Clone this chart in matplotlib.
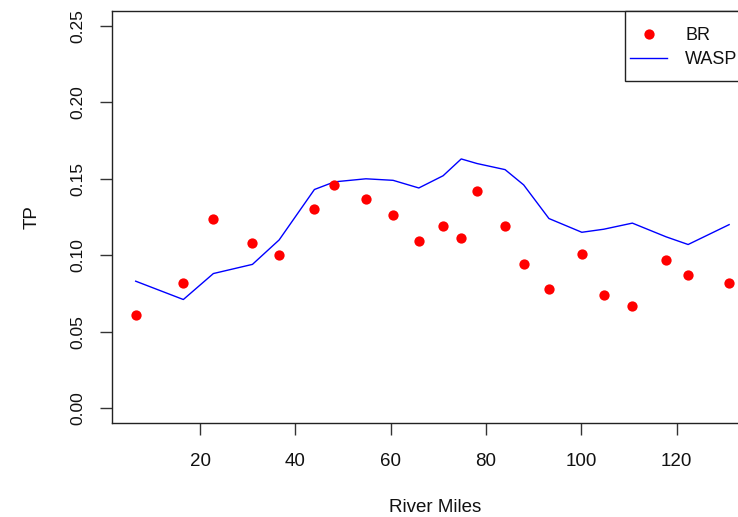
import matplotlib
matplotlib.use("Agg")
import matplotlib.pyplot as plt
from matplotlib.lines import Line2D
from matplotlib.patches import Rectangle

plt.rcParams['font.family'] = ['Liberation Sans', 'DejaVu Sans']

river_miles = [6.5, 16.5, 22.8, 31.0, 36.6, 44.0, 48.2, 54.8, 60.5, 65.9, 71.0,
               74.8, 78.1, 84.0, 87.9, 93.2, 100.1, 104.7, 110.7, 117.8, 122.4, 131.0]
br_tp = [0.061, 0.082, 0.124, 0.108, 0.100, 0.130, 0.146, 0.137, 0.126, 0.109, 0.119,
         0.111, 0.142, 0.119, 0.094, 0.078, 0.101, 0.074, 0.067, 0.097, 0.087, 0.082]
wasp_tp = [0.083, 0.071, 0.088, 0.094, 0.110, 0.143, 0.148, 0.150, 0.149, 0.144, 0.152,
           0.163, 0.160, 0.156, 0.146, 0.124, 0.115, 0.117, 0.121, 0.112, 0.107, 0.120]
x_limits = [1.47, 137.27]
y_limits = [-0.01, 0.26]
x_ticks = [20, 40, 60, 80, 100, 120]
y_ticks = [0.00, 0.05, 0.10, 0.15, 0.20, 0.25]
y_tick_labels = ["0.00", "0.05", "0.10", "0.15", "0.20", "0.25"]
legend_labels = ['BR', 'WASP']

W, H = 738, 517
fig = plt.figure(figsize=(W / 100, H / 100), dpi=100)
left, right, bottom, top = 111.7, 759.0, 423.3, 10.7
ax = fig.add_axes([left / W, (H - bottom) / H, (right - left) / W, (bottom - top) / H])

ax.plot(river_miles, wasp_tp, color='#0000ff', lw=1.0, zorder=2)
ax.plot(river_miles, br_tp, 'o', color='#ff0000', ms=7.4, mec='none', zorder=3)

ax.set_xlim(*x_limits)
ax.set_ylim(*y_limits)

ax.set_xticks(x_ticks)
ax.set_xticklabels([str(t) for t in x_ticks])
ax.set_yticks(y_ticks)
ax.set_yticklabels(y_tick_labels, rotation=90, va='center')

for s in ax.spines.values():
    s.set_color('#222222')
    s.set_linewidth(1.0)
ax.tick_params(axis='both', direction='out', length=8.4, width=1.0, color='#333333',
               labelcolor='#111111')
ax.tick_params(axis='x', labelsize=13.5, pad=12.7)
ax.tick_params(axis='y', labelsize=12.5, pad=10.8)

ax.set_xlabel('River Miles', fontsize=13.5, color='#111111')
ax.set_ylabel('TP', fontsize=13.5, color='#111111')
ax.xaxis.set_label_coords(0.5, (bottom - 507) / (bottom - top), transform=ax.transAxes)
ax.xaxis.label.set_va('center')
ax.yaxis.set_label_coords((32 - left) / (right - left), 0.5, transform=ax.transAxes)
ax.yaxis.label.set_va('center')

# legend frame (R-style square box anchored at top-right of plot region)
box_l, box_t, box_b = 625.0, 10.7, 81.0
frame = Rectangle((box_l / W, (H - box_b) / H), (right - box_l) / W, (box_b - box_t) / H,
                  transform=fig.transFigure, facecolor='white', edgecolor='#222222',
                  lw=1.0, clip_on=False, zorder=4)
ax.add_patch(frame)

handles = [Line2D([], [], ls='none', marker='o', color='#ff0000', ms=7.4, mec='none'),
           Line2D([], [], color='#0000ff', lw=1.0)]
leg = ax.legend(handles, legend_labels, loc='upper left',
                bbox_to_anchor=(619.2 / W, (H - 16.0) / H), bbox_transform=fig.transFigure,
                frameon=False, fontsize=13, borderaxespad=0,
                handlelength=2.06, handletextpad=1.0, borderpad=0.6, labelspacing=0.42)
leg.set_zorder(5)
for t in leg.get_texts():
    t.set_color('#111111')

fig.savefig('out.png', dpi=100)
